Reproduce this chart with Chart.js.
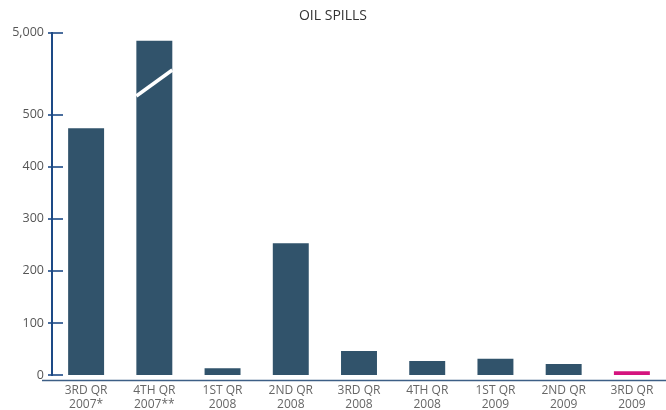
<!DOCTYPE html>
<html lang="en">
<head>
  <meta charset="UTF-8">
  <title>Oil spills</title>
  <script src="https://cdn.jsdelivr.net/npm/chart.js"></script>
  <style>
    body {
      margin: 0;
      background: #ffffff;
    }
    .wrap {
      width: 666px;
      height: 410px;
    }
  </style>
</head>
<body>
  <div class="wrap"><canvas id="grafico"></canvas></div>

  <script>
const quarters = [
  ['3RD QR', '2007*'], ['4TH QR', '2007**'], ['1ST QR', '2008'],
  ['2ND QR', '2008'], ['3RD QR', '2008'], ['4TH QR', '2008'],
  ['1ST QR', '2009'], ['2ND QR', '2009'], ['3RD QR', '2009']
];
const spills = [474, 4560, 13, 253, 46, 27, 31, 21, 7];
const yTicks = [0, 100, 200, 300, 400, 500, 5000];

// broken axis: linear up to 500, compressed above
const BREAK = 500;
const SQUEEZE = 0.035;
function squash(v) {
  return v <= BREAK ? v : BREAK + (v - BREAK) * SQUEEZE;
}

const barColor = '#31536b';
const lastColor = '#d4147e';
const axisColor = '#1d4a86';

const axisDecor = {
  id: 'axisDecor',
  afterDraw(chart) {
    const ctx = chart.ctx;
    const area = chart.chartArea;
    const y = chart.scales.y;
    ctx.save();
    // tick marks across the y axis
    ctx.strokeStyle = axisColor;
    ctx.lineWidth = 1.6;
    yTicks.forEach(t => {
      const py = Math.round(y.getPixelForValue(squash(t)));
      ctx.beginPath();
      ctx.moveTo(area.left - 4, py);
      ctx.lineTo(area.left + 11, py);
      ctx.stroke();
    });
    // baseline under the bars
    ctx.strokeStyle = '#3d5f86';
    ctx.lineWidth = 1.5;
    ctx.beginPath();
    ctx.moveTo(42, area.bottom + 5.5);
    ctx.lineTo(area.right, area.bottom + 5.5);
    ctx.stroke();
    // break mark on the tall bar
    const bar = chart.getDatasetMeta(0).data[1];
    const half = bar.width / 2;
    ctx.strokeStyle = '#ffffff';
    ctx.lineWidth = 3.5;
    ctx.beginPath();
    ctx.moveTo(bar.x - half, y.getPixelForValue(536));
    ctx.lineTo(bar.x + half, y.getPixelForValue(586));
    ctx.stroke();
    ctx.restore();
  }
};

new Chart(document.getElementById('grafico').getContext('2d'), {
  type: 'bar',
  data: {
    labels: quarters,
    datasets: [{
      label: 'Oil spills',
      data: spills.map(squash),
      backgroundColor: spills.map((v, i) => i === spills.length - 1 ? lastColor : barColor),
      categoryPercentage: 1,
      barPercentage: 0.527
    }]
  },
  options: {
    responsive: true,
    maintainAspectRatio: false,
    animation: false,
    plugins: {
      legend: { display: false },
      tooltip: { enabled: false },
      title: {
        display: true,
        text: 'OIL SPILLS',
        color: '#333333',
        font: { family: 'Open Sans', size: 14, weight: 'normal' },
        padding: { top: 8, bottom: 8 }
      }
    },
    scales: {
      x: {
        grid: { display: false, drawTicks: false },
        border: { display: false },
        ticks: {
          color: '#666666',
          font: { family: 'Open Sans', size: 12, lineHeight: 1.2 },
          padding: 8,
          maxRotation: 0,
          autoSkip: false
        },
        afterFit: s => { s.height = 35; }
      },
      y: {
        min: 0,
        max: squash(5000),
        grid: { display: false, drawTicks: false },
        border: { display: true, color: axisColor, width: 2 },
        afterBuildTicks: s => {
          s.ticks = yTicks.map(t => ({ value: squash(t) }));
        },
        ticks: {
          color: '#555555',
          font: { family: 'Open Sans', size: 12.5 },
          padding: 8,
          callback: (v, i) => yTicks[i].toLocaleString('en-US')
        },
        afterFit: s => { s.width = 52; }
      }
    }
  },
  plugins: [axisDecor]
});
</script>
</body>
</html>
